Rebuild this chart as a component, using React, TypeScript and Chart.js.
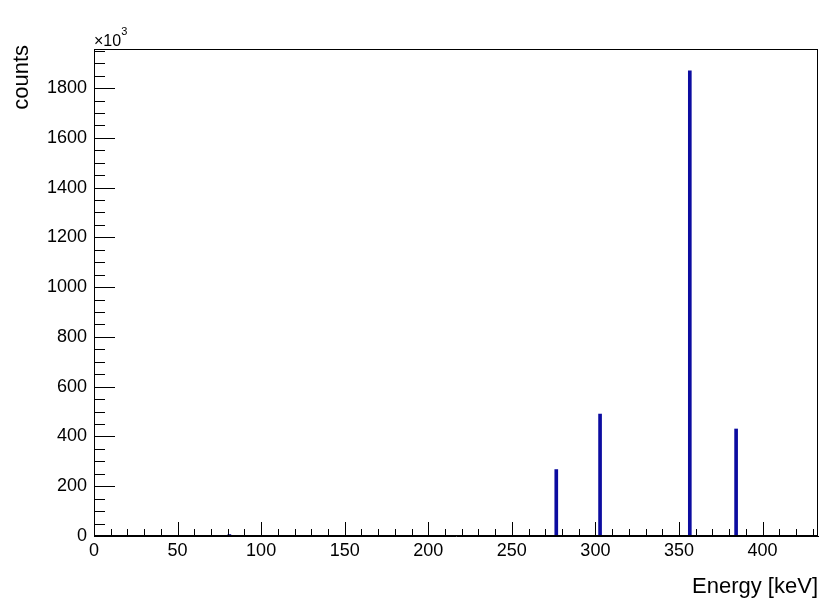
import React, { useEffect, useRef } from "react";
import { Chart, registerables } from "chart.js";

Chart.register(...registerables);

// Peak positions (keV) and counts (x10^3)
const energies = [81, 276.6, 302.8, 356.5, 384.2];
const counts = [6, 267, 490, 1869, 430];

const xTickLabels = [0, 50, 100, 150, 200, 250, 300, 350, 400];
const yTickLabels = [0, 200, 400, 600, 800, 1000, 1200, 1400, 1600, 1800];

const X_MIN = 0;
const X_MAX = 433.2;
const Y_MIN = 0;
const Y_MAX = 1957;

const FONT = "'Liberation Sans', Arial, Helvetica, sans-serif";

const rootAxesPlugin = {
  id: "rootAxes",
  afterDatasetsDraw(chart: any) {
    const { ctx, chartArea, scales } = chart;
    const xs = scales.x;
    const ys = scales.y;
    const { left, right, top, bottom } = chartArea;
    ctx.save();
    ctx.strokeStyle = "#000";
    ctx.lineWidth = 1;
    // frame
    ctx.strokeRect(left + 0.5, top + 0.5, right - left - 1, bottom - top - 1);
    ctx.beginPath();
    // x ticks (inward)
    for (let v = 0; v <= X_MAX; v += 10) {
      const px = Math.round(xs.getPixelForValue(v)) + 0.5;
      const len = v % 50 === 0 ? 14 : 7;
      ctx.moveTo(px, bottom);
      ctx.lineTo(px, bottom - len);
    }
    // y ticks (inward)
    for (let v = 0; v <= Y_MAX; v += 50) {
      const py = Math.round(ys.getPixelForValue(v)) + 0.5;
      const len = v % 200 === 0 ? 21 : 11;
      ctx.moveTo(left, py);
      ctx.lineTo(left + len, py);
    }
    ctx.stroke();

    // titles
    ctx.fillStyle = "#000";
    ctx.font = `22px ${FONT}`;
    ctx.textAlign = "right";
    ctx.textBaseline = "alphabetic";
    ctx.fillText("Energy [keV]", right, 593);

    ctx.save();
    ctx.translate(28, 45);
    ctx.rotate(-Math.PI / 2);
    ctx.textAlign = "right";
    ctx.fillText("counts", 0, 0);
    ctx.restore();

    ctx.textAlign = "left";
    ctx.font = `16px ${FONT}`;
    ctx.fillText("\u00d710", 94, 46);
    const w = ctx.measureText("\u00d710").width;
    ctx.font = `11px ${FONT}`;
    ctx.fillText("3", 94 + w, 35);
    ctx.restore();
  },
};

export default function App() {
  const canvasRef = useRef<HTMLCanvasElement | null>(null);

  useEffect(() => {
    document.body.style.margin = "0";
    const canvas = canvasRef.current;
    if (!canvas) return;
    const chart = new Chart(canvas, {
      type: "bar",
      data: {
        datasets: [
          {
            data: energies.map((e, i) => ({ x: e, y: counts[i] })),
            backgroundColor: "#0c0ca0",
            borderWidth: 0,
            barThickness: 3,
            grouped: false,
          } as any,
        ],
      },
      options: {
        animation: false,
        responsive: false,
        devicePixelRatio: 1,
        layout: { padding: { top: 49, right: 12, left: 0, bottom: 0 } },
        plugins: {
          legend: { display: false },
          tooltip: { enabled: false },
          title: { display: false },
        },
        scales: {
          x: {
            type: "linear",
            min: X_MIN,
            max: X_MAX,
            offset: false,
            grid: { display: false, drawTicks: false },
            border: { display: true, color: "#000", width: 1 },
            ticks: {
              color: "#000",
              font: { family: FONT, size: 18 },
              padding: 4,
              maxRotation: 0,
              autoSkip: false,
              callback: (v: any) => String(v),
            },
            afterBuildTicks: (scale: any) => {
              scale.ticks = xTickLabels.map((v) => ({ value: v }));
            },
            afterFit: (scale: any) => {
              scale.height = 77;
            },
          },
          y: {
            type: "linear",
            min: Y_MIN,
            max: Y_MAX,
            grid: { display: false, drawTicks: false },
            border: { display: true, color: "#000", width: 1 },
            ticks: {
              color: "#000",
              font: { family: FONT, size: 18 },
              padding: 7,
              autoSkip: false,
              callback: (v: any) => String(v),
            },
            afterBuildTicks: (scale: any) => {
              scale.ticks = yTickLabels.map((v) => ({ value: v }));
            },
            afterFit: (scale: any) => {
              scale.width = 94;
            },
          },
        },
      } as any,
      plugins: [rootAxesPlugin],
    });
    return () => chart.destroy();
  }, []);

  return (
    <div style={{ width: 830, height: 613, background: "#fff" }}>
      <canvas ref={canvasRef} width={830} height={613} />
    </div>
  );
}
